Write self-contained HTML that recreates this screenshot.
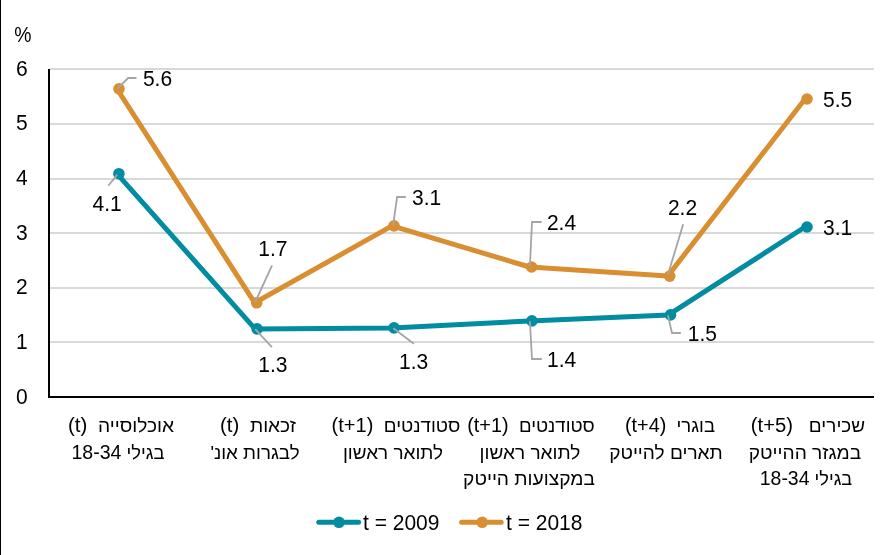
<!DOCTYPE html>
<html><head><meta charset="utf-8">
<style>
html,body{margin:0;padding:0;background:#fff;}
body{width:892px;height:555px;position:relative;overflow:hidden;will-change:transform;font-family:"Liberation Sans",sans-serif;color:#000;}
svg{position:absolute;left:0;top:0;}
.lat{font-size:20.3px;}
.cl{position:absolute;width:200px;text-align:center;direction:rtl;font-size:19px;line-height:19px;white-space:nowrap;transform-origin:50% 50%;}
</style></head><body>
<svg width="892" height="555" viewBox="0 0 892 555" font-family="Liberation Sans, sans-serif" font-size="22">
<rect x="0" y="0" width="1" height="555" fill="#000"/>
<g fill="#d9d9d9"><rect x="50" y="68" width="824" height="2"/><rect x="50" y="123" width="824" height="2"/><rect x="50" y="178" width="824" height="2"/><rect x="50" y="232" width="824" height="2"/><rect x="50" y="287" width="824" height="2"/><rect x="50" y="341" width="824" height="2"/></g>
<rect x="48" y="69" width="2" height="329" fill="#000"/>
<rect x="48" y="396" width="826" height="2" fill="#000"/>
<text transform="translate(27.60 75.50) scale(0.955 1)" text-anchor="end">6</text>
<text transform="translate(27.60 130.20) scale(0.955 1)" text-anchor="end">5</text>
<text transform="translate(27.60 184.90) scale(0.955 1)" text-anchor="end">4</text>
<text transform="translate(27.60 239.60) scale(0.955 1)" text-anchor="end">3</text>
<text transform="translate(27.60 294.30) scale(0.955 1)" text-anchor="end">2</text>
<text transform="translate(27.60 349.00) scale(0.955 1)" text-anchor="end">1</text>
<text transform="translate(27.60 403.70) scale(0.955 1)" text-anchor="end">0</text>
<text transform="translate(14.2 42) scale(0.88 1)">%</text>
<polyline fill="none" stroke="#018ca2" stroke-width="5" stroke-linejoin="round" points="116.9,173.7 255.1,328.9 392.0,327.9 529.9,320.9 668.5,314.9 805.0,227.0"/>
<circle cx="118.9" cy="173.7" r="5.8" fill="#018ca2"/><circle cx="257.1" cy="328.9" r="5.8" fill="#018ca2"/><circle cx="394" cy="327.9" r="5.8" fill="#018ca2"/><circle cx="531.9" cy="320.9" r="5.8" fill="#018ca2"/><circle cx="670.5" cy="314.9" r="5.8" fill="#018ca2"/><circle cx="807" cy="227" r="5.8" fill="#018ca2"/>
<polyline fill="none" stroke="#da8e32" stroke-width="5" stroke-linejoin="round" points="117.0,88.9 254.7,302.8 392.0,225.9 529.6,267.0 667.7,276.1 805.0,99.0"/>
<circle cx="119" cy="88.9" r="5.8" fill="#da8e32"/><circle cx="256.7" cy="302.8" r="5.8" fill="#da8e32"/><circle cx="394" cy="225.9" r="5.8" fill="#da8e32"/><circle cx="531.6" cy="267" r="5.8" fill="#da8e32"/><circle cx="669.7" cy="276.1" r="5.8" fill="#da8e32"/><circle cx="807" cy="99" r="5.8" fill="#da8e32"/>
<g stroke="#a5a5a5" stroke-width="1.8" fill="none"><polyline points="117.3,88.7 128.2,78 136.5,78"/><polyline points="117.3,174.6 108.3,185.7"/><polyline points="255.2,302 272.1,265.3"/><polyline points="255.2,329.2 271.9,347.2"/><polyline points="393.1,225.3 397.1,197 405.8,197"/><polyline points="393.3,328.3 413.9,343.8"/><polyline points="529.9,266.4 532,222 541.7,222"/><polyline points="529.9,321.3 532,359 541.8,359"/><polyline points="667.9,274.7 683.2,224.2"/><polyline points="667.9,315.4 672,333 680.8,333"/></g>
<text transform="translate(142.90 86.00) scale(0.955 1)">5.6</text>
<text transform="translate(92.60 210.80) scale(0.955 1)">4.1</text>
<text transform="translate(258.20 255.90) scale(0.955 1)">1.7</text>
<text transform="translate(258.30 371.80) scale(0.955 1)">1.3</text>
<text transform="translate(412.10 205.10) scale(0.955 1)">3.1</text>
<text transform="translate(399.00 368.70) scale(0.955 1)">1.3</text>
<text transform="translate(546.90 230.30) scale(0.955 1)">2.4</text>
<text transform="translate(547.00 367.00) scale(0.955 1)">1.4</text>
<text transform="translate(667.90 215.10) scale(0.955 1)">2.2</text>
<text transform="translate(687.80 341.00) scale(0.955 1)">1.5</text>
<text transform="translate(823.00 107.00) scale(0.955 1)">5.5</text>
<text transform="translate(823.00 234.80) scale(0.955 1)">3.1</text>
<line x1="318.8" y1="522.3" x2="358.6" y2="522.3" stroke="#018ca2" stroke-width="5" stroke-linecap="round"/>
<circle cx="339" cy="522.3" r="5.8" fill="#018ca2"/>
<text transform="translate(363.00 530.00) scale(0.955 1)">t = 2009</text>
<line x1="461.6" y1="522.3" x2="501.2" y2="522.3" stroke="#da8e32" stroke-width="5" stroke-linecap="round"/>
<circle cx="482.2" cy="522.3" r="5.8" fill="#da8e32"/>
<text transform="translate(506.00 530.00) scale(0.955 1)">t = 2018</text>
</svg>
<div class="cl" style="left:20.6px;top:416.02px;transform:scaleX(1.0097);">אוכלוסייה&nbsp; <span class="lat">(t)</span></div>
<div class="cl" style="left:18.0px;top:442.52px;transform:scaleX(0.9637);">בגילי <span class="lat">18-34</span></div>
<div class="cl" style="left:157.9px;top:416.02px;transform:scaleX(1.0055);">זכאות&nbsp; <span class="lat">(t)</span></div>
<div class="cl" style="left:154.5px;top:442.52px;transform:scaleX(0.9865);">לבגרות אונ'</div>
<div class="cl" style="left:295.6px;top:416.02px;transform:scaleX(0.9876);">סטודנטים&nbsp; <span class="lat">(t+1)</span></div>
<div class="cl" style="left:292.6px;top:442.52px;transform:scaleX(0.996);">לתואר ראשון</div>
<div class="cl" style="left:431.1px;top:416.02px;transform:scaleX(0.978);">סטודנטים&nbsp; <span class="lat">(t+1)</span></div>
<div class="cl" style="left:429.6px;top:442.52px;transform:scaleX(1.0022);">לתואר ראשון</div>
<div class="cl" style="left:429.1px;top:469.22px;transform:scaleX(1.0093);">במקצועות הייטק</div>
<div class="cl" style="left:569.5px;top:416.02px;transform:scaleX(0.9757);">בוגרי&nbsp; <span class="lat">(t+4)</span></div>
<div class="cl" style="left:566.2px;top:442.52px;transform:scaleX(1.0037);">תארים להייטק</div>
<div class="cl" style="left:708.1px;top:416.02px;transform:scaleX(0.9983);">שכירים&nbsp;&nbsp; <span class="lat">(t+5)</span></div>
<div class="cl" style="left:705.2px;top:442.52px;transform:scaleX(1.0074);">במגזר ההייטק</div>
<div class="cl" style="left:705.6px;top:469.22px;transform:scaleX(0.9579);">בגילי <span class="lat">18-34</span></div>
</body></html>
